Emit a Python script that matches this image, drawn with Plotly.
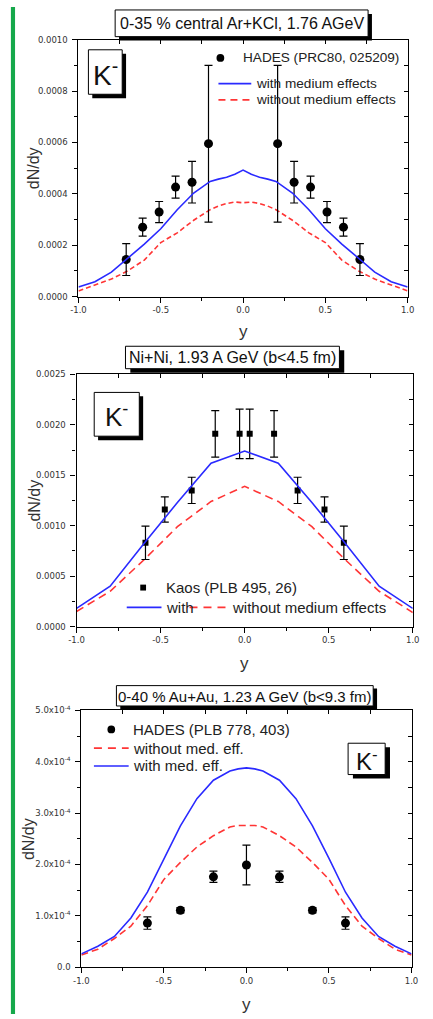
import plotly.graph_objects as go

W, H = 433, 1019

# ---------------- data ----------------
# Panel 1: 0-35 % central Ar+KCl, 1.76 AGeV
p1_pts_y = [-0.71, -0.61, -0.51, -0.41, -0.31, -0.21, 0.21, 0.31, 0.41, 0.51, 0.61, 0.71]
p1_pts_v = [0.000144, 0.000270, 0.000329, 0.000426, 0.000445, 0.000595,
            0.000595, 0.000445, 0.000426, 0.000329, 0.000270, 0.000144]
p1_pts_e = [0.000062, 0.000035, 0.000041, 0.000043, 0.000081, 0.000305,
            0.000305, 0.000081, 0.000043, 0.000041, 0.000035, 0.000062]
p1_curve_y = [-1.0, -0.9, -0.8, -0.7, -0.6, -0.5, -0.4, -0.3, -0.2, -0.15, -0.1, -0.05, 0.0,
              0.05, 0.1, 0.15, 0.2, 0.3, 0.4, 0.5, 0.6, 0.7, 0.8, 0.9, 1.0]
p1_with = [0.000037, 0.000058, 0.000095, 0.000150, 0.000204, 0.000264, 0.000338, 0.000403,
           0.000448, 0.000457, 0.000464, 0.000476, 0.000492,
           0.000476, 0.000464, 0.000457, 0.000448, 0.000403, 0.000338, 0.000264, 0.000204,
           0.000150, 0.000095, 0.000058, 0.000037]
p1_without = [0.000022, 0.000045, 0.000068, 0.000100, 0.000142, 0.000210, 0.000248, 0.000297,
              0.000338, 0.000352, 0.000362, 0.000368, 0.000365,
              0.000368, 0.000362, 0.000352, 0.000338, 0.000297, 0.000248, 0.000210, 0.000142,
              0.000100, 0.000068, 0.000045, 0.000022]

# Panel 2: Ni+Ni, 1.93 A GeV (b<4.5 fm)
p2_pts_y = [-0.59, -0.475, -0.315, -0.175, -0.03, 0.03, 0.175, 0.315, 0.475, 0.59]
p2_pts_v = [0.00083, 0.00116, 0.00135, 0.00191, 0.00191, 0.00191, 0.00191, 0.00135, 0.00116, 0.00083]
p2_pts_e = [0.000165, 0.000125, 0.00013, 0.00023, 0.000245, 0.000245, 0.00023, 0.00013, 0.000125, 0.000165]
p2_curve_y = [-1.0, -0.8, -0.6, -0.4, -0.2, 0.0, 0.2, 0.4, 0.6, 0.8, 1.0]
p2_with = [0.00018, 0.00040, 0.00082, 0.00123, 0.00162, 0.00174, 0.00162, 0.00123, 0.00082, 0.00040, 0.00018]
p2_without = [0.00015, 0.00035, 0.00066, 0.00099, 0.00124, 0.00139, 0.00124, 0.00099, 0.00066, 0.00035, 0.00014]

# Panel 3: 0-40 % Au+Au, 1.23 A GeV (b<9.3 fm)
p3_pts_y = [-0.6, -0.4, -0.2, 0.0, 0.2, 0.4, 0.6]
p3_pts_v = [0.86e-4, 1.11e-4, 1.76e-4, 1.99e-4, 1.76e-4, 1.11e-4, 0.86e-4]
p3_pts_e = [0.12e-4, 0.05e-4, 0.11e-4, 0.385e-4, 0.11e-4, 0.05e-4, 0.12e-4]
p3_curve_y = [-1.0, -0.9, -0.8, -0.7, -0.6, -0.5, -0.4, -0.3, -0.2, -0.1, -0.05, 0.0,
              0.05, 0.1, 0.2, 0.3, 0.4, 0.5, 0.6, 0.7, 0.8, 0.9, 1.0]
p3_with = [0.26e-4, 0.41e-4, 0.60e-4, 0.96e-4, 1.46e-4, 2.12e-4, 2.75e-4, 3.28e-4, 3.64e-4, 3.82e-4,
           3.86e-4, 3.88e-4, 3.86e-4, 3.82e-4, 3.64e-4, 3.28e-4, 2.75e-4, 2.12e-4, 1.46e-4, 0.96e-4,
           0.60e-4, 0.41e-4, 0.26e-4]
p3_without = [0.24e-4, 0.35e-4, 0.56e-4, 0.80e-4, 1.20e-4, 1.71e-4, 2.04e-4, 2.34e-4, 2.56e-4, 2.73e-4,
              2.76e-4, 2.76e-4, 2.76e-4, 2.73e-4, 2.56e-4, 2.34e-4, 2.04e-4, 1.71e-4, 1.20e-4, 0.80e-4,
              0.56e-4, 0.35e-4, 0.24e-4]

x_tickvals = [-1.0, -0.5, 0.0, 0.5, 1.0]
x_ticktext = ["-1.0", "-0.5", "0.0", "0.5", "1.0"]
p1_ytickvals = [0, 0.0002, 0.0004, 0.0006, 0.0008, 0.0010]
p1_yticktext = ["0.0000", "0.0002", "0.0004", "0.0006", "0.0008", "0.0010"]
p2_ytickvals = [0, 0.0005, 0.0010, 0.0015, 0.0020, 0.0025]
p2_yticktext = ["0.0000", "0.0005", "0.0010", "0.0015", "0.0020", "0.0025"]
p3_ytickvals = [0, 1e-4, 2e-4, 3e-4, 4e-4, 5e-4]
p3_yticktext = ["0.0", "1.0x10<sup>-4</sup>", "2.0x10<sup>-4</sup>", "3.0x10<sup>-4</sup>",
                "4.0x10<sup>-4</sup>", "5.0x10<sup>-4</sup>"]

titles = ["0-35 % central Ar+KCl, 1.76 AGeV",
          "Ni+Ni, 1.93 A GeV (b<4.5 fm)",
          "0-40 % Au+Au, 1.23 A GeV (b<9.3 fm)"]

BLUE = "#2a2aff"
RED = "#ff3535"
TXT = "#222222"
FONT = "Liberation Sans, Arial, sans-serif"
TICKFONT = dict(family="DejaVu Sans, Verdana, sans-serif", size=8.5, color="#333333")


def px(x):
    return x / W


def py(y):
    return 1 - y / H


# panel geometry in pixels: x0, x1, ytop, ybottom
panels = [
    dict(x0=73, x1=414, yt=33, yb=293, yr=[0, 0.0010], mdy=0.0001,
         tv=p1_ytickvals, tt=p1_yticktext),
    dict(x0=71, x1=419.3, yt=371.7, yb=627, yr=[0, 0.0025], mdy=0.00025,
         tv=p2_ytickvals, tt=p2_yticktext),
    dict(x0=76, x1=418, yt=711.7, yb=971.7, yr=[0, 5e-4], mdy=0.5e-4,
         tv=p3_ytickvals, tt=p3_yticktext),
]

fig = go.Figure()
layout = {}
for i, p in enumerate(panels, start=1):
    xs = "" if i == 1 else str(i)
    top = str(i + 3)
    layout["xaxis" + xs] = dict(
        domain=[px(p["x0"]), px(p["x1"])], range=[-1, 1], anchor="y" + xs,
        showline=True, linecolor="black", linewidth=1.2, mirror=True,
        ticks="outside", ticklen=5, tickwidth=1, tickcolor="black",
        tickvals=x_tickvals, ticktext=x_ticktext, tickfont=TICKFONT,
        minor=dict(dtick=0.25, tick0=0, ticks="outside", ticklen=3, tickwidth=1, tickcolor="black"),
        showgrid=False, zeroline=False, fixedrange=True)
    layout["yaxis" + xs] = dict(
        domain=[py(p["yb"]), py(p["yt"])], range=p["yr"], anchor="x" + xs,
        showline=True, linecolor="black", linewidth=1.2, mirror=True,
        ticks="outside", ticklen=5, tickwidth=1, tickcolor="black",
        tickvals=p["tv"], ticktext=p["tt"], tickfont=TICKFONT, ticklabelstandoff=3,
        minor=dict(dtick=p["mdy"], tick0=0, ticks="outside", ticklen=3, tickwidth=1, tickcolor="black"),
        showgrid=False, zeroline=False, fixedrange=True)
    # inward ticks on top and right
    layout["xaxis" + top] = dict(
        overlaying="x" + xs, anchor="y" + xs, side="top", range=[-1, 1],
        showline=False, ticks="inside", ticklen=4, tickwidth=1, tickcolor="black",
        dtick=0.25, tick0=0, showticklabels=False, showgrid=False, zeroline=False, fixedrange=True)
    layout["yaxis" + top] = dict(
        overlaying="y" + xs, anchor="x" + xs, side="right", range=p["yr"],
        showline=False, ticks="inside", ticklen=4, tickwidth=1, tickcolor="black",
        dtick=p["mdy"], tick0=0, showticklabels=False, showgrid=False, zeroline=False, fixedrange=True)

# ---------- traces ----------
curve_sets = [
    (p1_curve_y, p1_with, p1_without, "5px,3px"),
    (p2_curve_y, p2_with, p2_without, "8px,5px"),
    (p3_curve_y, p3_with, p3_without, "7px,4px"),
]
point_sets = [
    (p1_pts_y, p1_pts_v, p1_pts_e, "circle", 9),
    (p2_pts_y, p2_pts_v, p2_pts_e, "square", 6),
    (p3_pts_y, p3_pts_v, p3_pts_e, "circle", 9),
]
for i in range(1, 4):
    xs = "" if i == 1 else str(i)
    top = str(i + 3)
    cy, cw, cwo, dash = curve_sets[i - 1]
    fig.add_trace(go.Scatter(x=cy, y=cwo, mode="lines", xaxis="x" + xs, yaxis="y" + xs,
                             line=dict(color=RED, width=1.6, dash=dash), showlegend=False,
                             hoverinfo="skip"))
    fig.add_trace(go.Scatter(x=cy, y=cw, mode="lines", xaxis="x" + top, yaxis="y" + xs,
                             line=dict(color=BLUE, width=1.6), showlegend=False, hoverinfo="skip"))
    ys, vs, es, sym, sz = point_sets[i - 1]
    fig.add_trace(go.Scatter(x=ys, y=vs, mode="markers", xaxis="x" + xs, yaxis="y" + top,
                             marker=dict(symbol=sym, size=sz, color="black"),
                             error_y=dict(type="data", array=es, visible=True, color="black",
                                          thickness=1.2, width=4),
                             showlegend=False, hoverinfo="skip"))

# ---------- decorations ----------
shapes = []
annotations = []

# green bar at the left edge
shapes.append(dict(type="rect", xref="paper", yref="paper", x0=px(3), x1=px(7.3), y0=0, y1=1,
                   fillcolor="#16a84b", line=dict(width=0), layer="above"))


def shadow_box(x0, y0, x1, y1, dx, dy):
    shapes.append(dict(type="rect", xref="paper", yref="paper",
                       x0=px(x0 + dx), x1=px(x1 + dx), y0=py(y1 + dy), y1=py(y0 + dy),
                       fillcolor="black", line=dict(width=0), layer="above"))
    shapes.append(dict(type="rect", xref="paper", yref="paper",
                       x0=px(x0), x1=px(x1), y0=py(y1), y1=py(y0),
                       fillcolor="white", line=dict(color="black", width=1), layer="above"))


def text(x, y, s, size, xanchor="center", color=TXT, angle=0):
    annotations.append(dict(x=px(x), y=py(y), xref="paper", yref="paper", text=s, showarrow=False,
                            xanchor=xanchor, yanchor="middle", textangle=angle,
                            font=dict(family=FONT, size=size, color=color)))


# title boxes
title_boxes = [(111, 3, 373, 30, 4, 4, 16), (121.7, 343.3, 343.3, 366, 5, 4, 16),
               (112.3, 686.7, 378.3, 707.3, 4, 3, 15)]
for (x0, y0, x1, y1, dx, dy, fs), t in zip(title_boxes, titles):
    shadow_box(x0, y0, x1, y1, dx, dy)
    text((x0 + x1) / 2, (y0 + y1) / 2 + 0.5, t, fs, color="#111111")

# K- boxes
k_boxes = [(83.3, 43.3, 118.3, 88.3, 4, 4, 28), (89.3, 390, 136, 434.3, 4, 4, 26),
           (352.3, 745, 390.7, 776.7, 5, 4, 24)]
for x0, y0, x1, y1, dx, dy, fs in k_boxes:
    shadow_box(x0, y0, x1, y1, dx, dy)
    text((x0 + x1) / 2, (y0 + y1) / 2 + 1, "K<sup>-</sup>", fs, color="#111111")

# axis titles
for p, yx in zip(panels, [26, 27, 22]):
    text(yx, (p["yt"] + p["yb"]) / 2, "dN/dy", 16, angle=-90, color="#333333")
for yy, p in zip([328, 664, 1009], panels):
    text((p["x0"] + p["x1"]) / 2, yy, "y", 17, color="#333333")


def dot(cx, cy, r):
    shapes.append(dict(type="circle", xref="paper", yref="paper", x0=px(cx - r), x1=px(cx + r),
                       y0=py(cy + r), y1=py(cy - r), fillcolor="black", line=dict(width=0),
                       layer="above"))


def square(cx, cy, r):
    shapes.append(dict(type="rect", xref="paper", yref="paper", x0=px(cx - r), x1=px(cx + r),
                       y0=py(cy + r), y1=py(cy - r), fillcolor="black", line=dict(width=0),
                       layer="above"))


def sample(x0, x1, y, color, dash="solid"):
    shapes.append(dict(type="line", xref="paper", yref="paper", x0=px(x0), x1=px(x1),
                       y0=py(y), y1=py(y), line=dict(color=color, width=1.6, dash=dash),
                       layer="above"))


# legend panel 1
dot(220, 51.5, 4)
text(241.5, 51.5, "HADES (PRC80, 025209)", 13.6, xanchor="left")
sample(218, 252, 77.5, BLUE)
text(254.5, 77.5, "with medium effects", 13.6, xanchor="left")
sample(218, 252, 94, RED, "7px,5px")
text(254.5, 94, "without medium effects", 13.6, xanchor="left")

# legend panel 2
square(140, 587.5, 3)
text(161.5, 587.5, "Kaos (PLB 495, 26)", 15, xanchor="left")
sample(123, 159, 607.5, BLUE)
text(161.5, 607.5, "with", 15, xanchor="left")
sample(188, 228, 607.5, RED, "8px,6px")
text(229.5, 607.5, "without medium effects", 15, xanchor="left")

# legend panel 3
dot(107, 731, 4)
text(127, 731, "HADES (PLB 778, 403)", 15, xanchor="left")
sample(89, 125, 750, RED, "8px,6px")
text(127, 750, "without med. eff.", 15, xanchor="left")
sample(89, 125, 768, BLUE)
text(127, 768, "with med. eff.", 15, xanchor="left")

fig.update_layout(
    width=W, height=H, margin=dict(l=0, r=0, t=0, b=0),
    paper_bgcolor="white", plot_bgcolor="white",
    showlegend=False, shapes=shapes, annotations=annotations,
    **layout)

fig.write_html("out.html", config=dict(displayModeBar=False))
